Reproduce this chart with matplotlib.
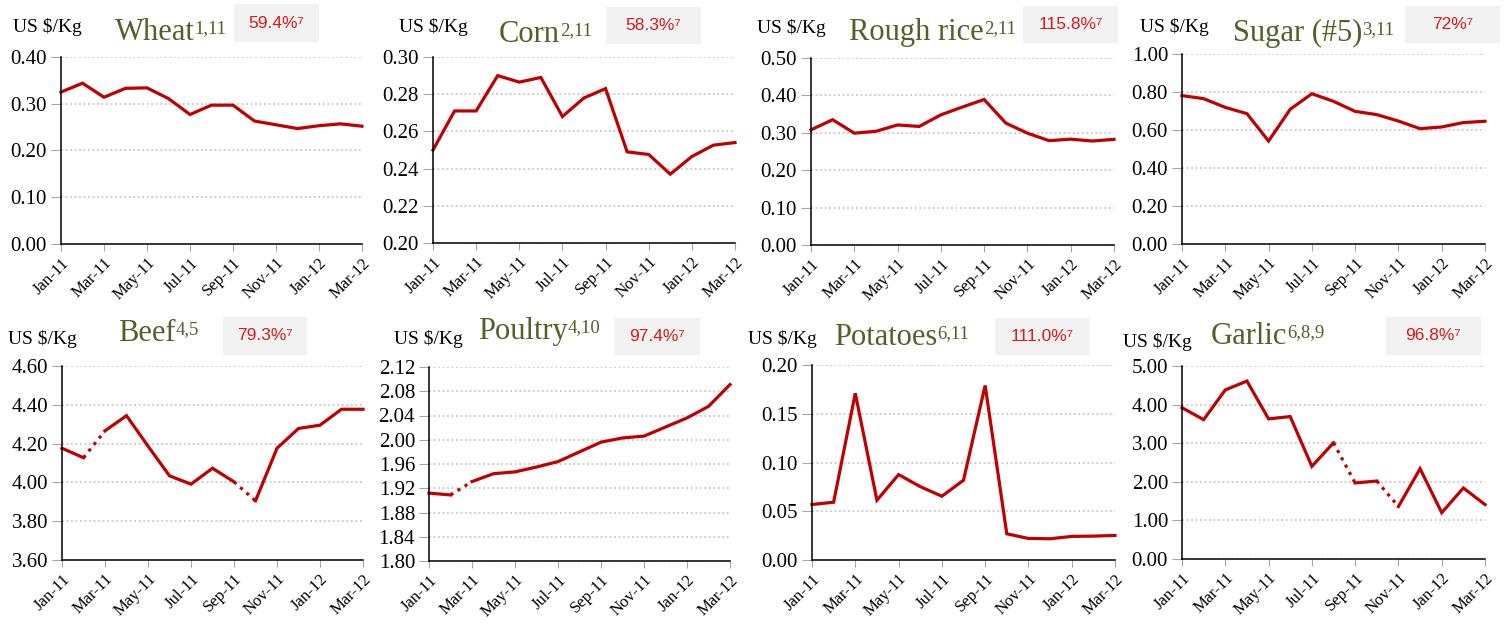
import numpy as np
import matplotlib
matplotlib.use('Agg')
import matplotlib.pyplot as plt
from matplotlib.patches import Rectangle
from matplotlib.ticker import FormatStrFormatter

plt.rcParams['font.family'] = 'Liberation Serif'

# data (US $/Kg, Jan-11 .. Mar-12)
months = ['Jan-11', 'Feb-11', 'Mar-11', 'Apr-11', 'May-11', 'Jun-11', 'Jul-11', 'Aug-11',
          'Sep-11', 'Oct-11', 'Nov-11', 'Dec-11', 'Jan-12', 'Feb-12', 'Mar-12']
wheat = [0.325, 0.344, 0.314, 0.333, 0.334, 0.311, 0.277, 0.297, 0.297, 0.263, 0.255, 0.247, 0.253, 0.257, 0.252]
corn = [0.250, 0.271, 0.271, 0.290, 0.2865, 0.289, 0.268, 0.278, 0.283, 0.249, 0.2476, 0.237, 0.2465, 0.2526, 0.254]
rice = [0.308, 0.335, 0.299, 0.304, 0.321, 0.317, 0.348, 0.369, 0.389, 0.326, 0.299, 0.279, 0.283, 0.278, 0.2825]
sugar = [0.781, 0.765, 0.719, 0.686, 0.542, 0.709, 0.791, 0.751, 0.698, 0.681, 0.647, 0.607, 0.616, 0.639, 0.646]
beef = [4.176, 4.127, 4.266, 4.344, 4.187, 4.034, 3.991, 4.073, 4.003, 3.905, 4.176, 4.278, 4.295, 4.377, 4.377]
poultry = [1.912, 1.909, 1.931, 1.944, 1.947, 1.955, 1.964, 1.980, 1.996, 2.003, 2.006, 2.021, 2.036, 2.055, 2.091]
potatoes = [0.0569, 0.0593, 0.171, 0.0613, 0.0876, 0.0753, 0.0654, 0.0818, 0.179, 0.0269, 0.0221, 0.0218, 0.0242, 0.0245, 0.0252]
garlic = [3.92, 3.61, 4.38, 4.61, 3.63, 3.69, 2.40, 3.01, 1.97, 2.02, 1.36, 2.34, 1.20, 1.84, 1.41]

names = ['Wheat', 'Corn', 'Rough rice', 'Sugar (#5)', 'Beef', 'Poultry', 'Potatoes', 'Garlic']
notes = ['1,11', '2,11', '2,11', '3,11', '4,5', '4,10', '6,11', '6,8,9']
shares = ['59.4%', '58.3%', '115.8%', '72%', '79.3%', '97.4%', '111.0%', '96.8%']
series = [wheat, corn, rice, sugar, beef, poultry, potatoes, garlic]
ylims = [(0, 0.40, 0.10), (0.20, 0.30, 0.02), (0, 0.50, 0.10), (0, 1.00, 0.20),
         (3.60, 4.60, 0.20), (1.80, 2.12, 0.04), (0, 0.20, 0.05), (0, 5.00, 1.00)]
dotted = [[], [], [], [], [1, 8], [1], [], [7, 9]]  # segment i -> i+1 drawn dotted

# layout in pixels
W, H = 1506, 624
ax_px = [(61, 57, 362, 244), (433, 57, 735, 243), (811, 58, 1114, 245), (1182, 54, 1485, 244),
         (62, 366, 363, 560), (429, 367, 730, 561), (812, 365, 1115, 560), (1182, 366, 1485, 559)]
unit_px = [(13, 32), (399, 32), (757, 33), (1140, 32), (8, 344), (394, 344), (748, 344), (1123, 347)]
title_px = [(115, 40), (499, 42), (849, 40), (1233, 41), (118, 341), (478, 339), (834, 345), (1211, 344)]
box_px = [(234, 4, 319, 42), (606, 7, 701, 44), (1023, 6, 1118, 43), (1405, 6, 1500, 43),
          (223, 317, 307, 355), (614, 318, 700, 355), (995, 318, 1090, 355), (1386, 317, 1481, 355)]

RED = '#C00000'
GREEN = '#4F6228'


def fx(x):
    return x / W


def fy(y):
    return 1 - y / H


fig = plt.figure(figsize=(15.06, 6.24), dpi=100)

for i in range(8):
    l, t, r, b = ax_px[i]
    ax = fig.add_axes([fx(l), fy(b), (r - l) / W, (b - t) / H])
    y = np.array(series[i])
    x = np.arange(len(y))

    # solid runs broken at the dotted segments
    start = 0
    for k in range(len(y) - 1):
        if k in dotted[i]:
            if k > start:
                ax.plot(x[start:k + 1], y[start:k + 1], color=RED, lw=2.3, clip_on=False,
                        solid_joinstyle='miter')
            ax.plot(x[k:k + 2], y[k:k + 2], color=RED, lw=2.3, ls=(0, (1, 1.6)), clip_on=False)
            start = k + 1
    ax.plot(x[start:], y[start:], color=RED, lw=2.3, clip_on=False, solid_joinstyle='miter')

    lo, hi, step = ylims[i]
    ax.set_xlim(0, 14)
    ax.set_ylim(lo, hi)
    ax.set_yticks(np.arange(lo, hi + step / 2, step))
    ax.yaxis.set_major_formatter(FormatStrFormatter('%.2f'))
    ax.set_xticks(x[::2])
    ax.set_xticklabels(months[::2], rotation=45, ha='right', rotation_mode='anchor', fontsize=12)
    ax.tick_params(axis='y', labelsize=15, length=7, color='#A6A6A6', pad=3)
    ax.tick_params(axis='x', length=5, color='#A6A6A6', pad=3)
    for s in ['top', 'right']:
        ax.spines[s].set_visible(False)
    ax.spines['left'].set_linewidth(1.1)
    ax.spines['bottom'].set_linewidth(1.1)
    ax.grid(axis='y', color='#C8C8C8', ls=(0, (1, 1.5)), lw=1.3)
    ax.set_axisbelow(True)

    ux, uy = unit_px[i]
    fig.text(fx(ux), fy(uy), 'US $/Kg', fontsize=14, va='baseline', ha='left')

    tx, ty = title_px[i]
    tt = fig.text(fx(tx), fy(ty), names[i], fontsize=22, color=GREEN, va='baseline', ha='left')
    ax.annotate(notes[i], xy=(1, 1), xycoords=tt, xytext=(0, -1.5), textcoords='offset points',
                va='top', ha='left', fontsize=13.5, color=GREEN)

    bl, bt, br, bb = box_px[i]
    fig.add_artist(Rectangle((fx(bl), fy(bb)), (br - bl) / W, (bb - bt) / H,
                             transform=fig.transFigure, facecolor='#F2F2F2', edgecolor='none'))
    fig.text(fx((bl + br) / 2), fy((bt + bb) / 2), shares[i] + '\u2077',
             family=['Liberation Sans', 'DejaVu Sans'], fontsize=12.5, color='#D71A1A',
             ha='center', va='center')

fig.savefig('out.png', dpi=100)
